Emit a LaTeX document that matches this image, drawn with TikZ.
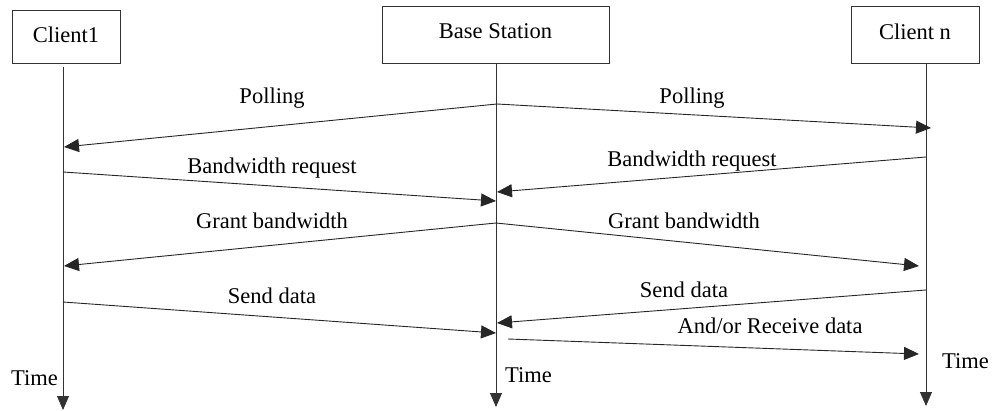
\documentclass[tikz,border=0pt]{standalone}
\usepackage{fontspec}
\setmainfont{Liberation Serif}
\usetikzlibrary{arrows.meta}
\begin{document}
\begin{tikzpicture}[x=1pt,y=-1pt,
  every node/.style={font=\fontsize{22.5}{26}\selectfont},
  actor/.style={draw=black!80, line width=0.9pt, rectangle, inner sep=0pt},
  lbl/.style={anchor=base, inner sep=0pt},
  life/.style={draw=black!80, line width=0.9pt, -{Triangle[length=14pt,width=12pt]}},
  msg/.style={draw=black!85, line width=0.9pt, -{Triangle[length=15pt,width=13pt]}}]
\useasboundingbox (0,0) rectangle (994,410);
% actor boxes
\node[actor, minimum width=108pt, minimum height=53pt] (c1) at (66,36.5) {};
\node[actor, minimum width=227pt, minimum height=57pt] (bs) at (495.5,34.5) {};
\node[actor, minimum width=128pt, minimum height=57pt] (cn) at (915,34.5) {};
\node[lbl] (c1t) at (66,42) {Client1};
\node[lbl] (bst) at (495.5,38) {Base Station};
\node[lbl] (cnt) at (915,39) {Client n};
% lifelines
\coordinate (c1top) at (63,67);
\coordinate (c1bot) at (63,410);
\coordinate (bstop) at (496,63);
\coordinate (bsbot) at (496,407);
\coordinate (cntop) at (926,63);
\coordinate (cnbot) at (926,406);
\draw[life] (c1top) -- (c1bot);
\draw[life] (bstop) -- (bsbot);
\draw[life] (cntop) -- (cnbot);
% message end points
\coordinate (p0) at (497,104);
\coordinate (p1) at (64,147);
\coordinate (p2) at (931,128);
\coordinate (b1s) at (63,172);
\coordinate (b1e) at (496,201);
\coordinate (b2s) at (926,157);
\coordinate (b2e) at (497,192);
\coordinate (g0) at (496,223);
\coordinate (g1) at (64,266);
\coordinate (g2) at (919,266);
\coordinate (s1s) at (63,302);
\coordinate (s1e) at (496,333);
\coordinate (s2s) at (926,290);
\coordinate (s2e) at (497,323);
\coordinate (rs) at (508,339);
\coordinate (re) at (919,354);
% messages
\draw[msg] (p0) -- (p1);
\draw[msg] (p0) -- (p2);
\draw[msg] (b1s) -- (b1e);
\draw[msg] (b2s) -- (b2e);
\draw[msg] (g0) -- (g1);
\draw[msg] (g0) -- (g2);
\draw[msg] (s1s) -- (s1e);
\draw[msg] (s2s) -- (s2e);
\draw[msg] (rs) -- (re);
% labels
\node[lbl] (l1) at (272,103) {Polling};
\node[lbl] (l2) at (692,103) {Polling};
\node[lbl] (l3) at (272,173) {Bandwidth request};
\node[lbl] (l4) at (692,166) {Bandwidth request};
\node[lbl] (l5) at (272,228) {Grant bandwidth};
\node[lbl] (l6) at (684,228) {Grant bandwidth};
\node[lbl] (l7) at (272,303) {Send data};
\node[lbl] (l8) at (684,297) {Send data};
\node[lbl] (l9) at (770,333) {And/or Receive data};
\node[lbl] (t1) at (34.5,385) {Time};
\node[lbl] (t2) at (528.5,382) {Time};
\node[lbl] (t3) at (965.5,368) {Time};
\end{tikzpicture}
\end{document}
